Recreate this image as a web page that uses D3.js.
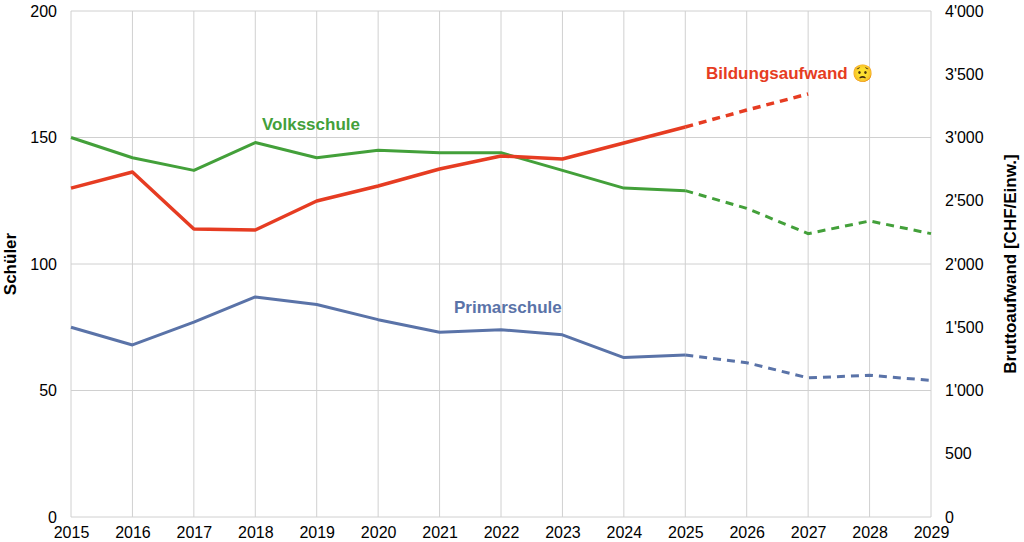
<!DOCTYPE html>
<html><head><meta charset="utf-8">
<script src="https://cdn.jsdelivr.net/npm/d3@7"></script>
<style>body{margin:0;background:#fff;font-family:"Liberation Sans",Arial,sans-serif}</style>
</head><body><div id="chart"></div>
<script>
var years = d3.range(2015, 2030)
var volksschule = [150, 142, 137, 148, 142, 145, 144, 144, 137, 130, 129, 122, 112, 117, 112]
var primarschule = [75, 68, 77, 87, 84, 78, 73, 74, 72, 63, 64, 61, 55, 56, 54]
var aufwandYears = [2015, 2016, 2017, 2018, 2019, 2020, 2021, 2022, 2023, 2024, 2025, 2026, 2027]
var aufwand = [2600, 2727, 2277, 2269, 2498, 2617, 2751, 2854, 2830, 2957, 3083, 3217, 3344]
var lastActual = 2025

var width = 1024, height = 542
var margin = { top: 11, left: 71, right: 93, bottom: 25 }

var svg = d3.select('#chart').append('svg').attr('width', width).attr('height', height)

var x = d3.scaleLinear().domain([2015, 2029]).range([margin.left, width - margin.right])
var yL = d3.scaleLinear().domain([0, 200]).range([height - margin.bottom, margin.top])
var yR = d3.scaleLinear().domain([0, 4000]).range([height - margin.bottom, margin.top])

// grid
svg.append('g').selectAll('line').data(years).join('line')
  .attr('x1', d => x(d)).attr('x2', d => x(d))
  .attr('y1', margin.top).attr('y2', height - margin.bottom)
  .attr('stroke', '#d0d0d0')
svg.append('g').selectAll('line').data(d3.range(0, 201, 50)).join('line')
  .attr('x1', margin.left).attr('x2', width - margin.right)
  .attr('y1', d => yL(d)).attr('y2', d => yL(d))
  .attr('stroke', '#d0d0d0')

function styleAxis(g) {
  g.select('.domain').remove()
  g.selectAll('.tick line').remove()
  g.selectAll('text').attr('font-size', 16).attr('fill', '#000').attr('font-family', 'Liberation Sans, Arial, sans-serif')
}
svg.append('g').attr('transform', 'translate(0,' + (height - margin.bottom) + ')')
  .call(d3.axisBottom(x).tickValues(years).tickFormat(d3.format('d')).tickPadding(4)).call(styleAxis)
svg.append('g').attr('transform', 'translate(' + margin.left + ',0)')
  .call(d3.axisLeft(yL).tickValues(d3.range(0, 201, 50)).tickPadding(8)).call(styleAxis)
svg.append('g').attr('transform', 'translate(' + (width - margin.right) + ',0)')
  .call(d3.axisRight(yR).tickValues(d3.range(0, 4001, 500))
    .tickFormat(d => d >= 1000 ? Math.floor(d / 1000) + "'" + String(d % 1000).padStart(3, '0') : d).tickPadding(8))
  .call(styleAxis)

svg.append('text').attr('transform', 'translate(16,' + yL(100) + ') rotate(-90)')
  .attr('text-anchor', 'middle').attr('font-size', 17).attr('font-weight', 'bold').text('Schüler')
svg.append('text').attr('transform', 'translate(1016,' + yL(100) + ') rotate(-90)')
  .attr('text-anchor', 'middle').attr('font-size', 17).attr('font-weight', 'bold').text('Bruttoaufwand [CHF/Einw.]')

function drawSeries(xs, vals, yScale, color, w) {
  var pts = xs.map((d, i) => [d, vals[i]])
  var line = d3.line().x(d => x(d[0])).y(d => yScale(d[1]))
  svg.append('path').datum(pts.filter(d => d[0] <= lastActual)).attr('d', line)
    .attr('fill', 'none').attr('stroke', color).attr('stroke-width', w).attr('stroke-linejoin', 'round')
  svg.append('path').datum(pts.filter(d => d[0] >= lastActual)).attr('d', line)
    .attr('fill', 'none').attr('stroke', color).attr('stroke-width', w).attr('stroke-dasharray', '8,6')
}
drawSeries(years, volksschule, yL, '#43a03a', 3)
drawSeries(years, primarschule, yL, '#5a73a8', 3)
drawSeries(aufwandYears, aufwand, yR, '#e63c22', 3.5)

svg.append('text').attr('x', 262).attr('y', 130).attr('font-size', 17).attr('font-weight', 'bold').attr('fill', '#43a03a').text('Volksschule')
svg.append('text').attr('x', 454).attr('y', 313).attr('font-size', 17).attr('font-weight', 'bold').attr('fill', '#5a73a8').text('Primarschule')
svg.append('text').attr('x', 706).attr('y', 79).attr('font-size', 17).attr('font-weight', 'bold').attr('fill', '#e63c22').text('Bildungsaufwand 😟')
</script></body></html>
